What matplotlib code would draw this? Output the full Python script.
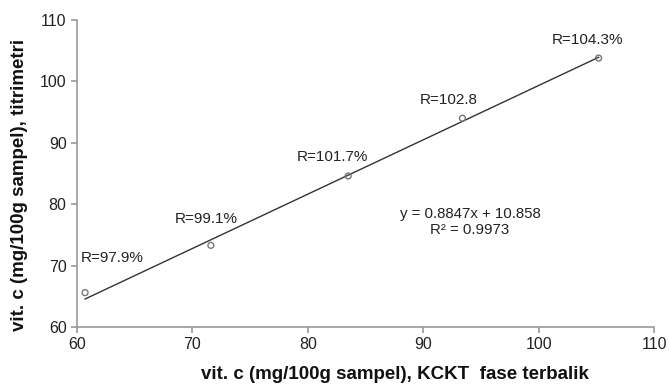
import numpy as np
import matplotlib
matplotlib.use("Agg")
import matplotlib.pyplot as plt

plt.rcParams['font.family'] = ['Liberation Sans', 'DejaVu Sans']

# data
x_kckt = [60.7, 71.6, 83.5, 93.4, 105.2]
y_titri = [65.6, 73.3, 84.6, 94.0, 103.8]
labels = ["R=97.9%", "R=99.1%", "R=101.7%", "R=102.8", "R=104.3%"]
slope, intercept = 0.8847, 10.858

fig = plt.figure(figsize=(6.69, 3.87), dpi=100)
ax = fig.add_axes([77 / 669, 1 - 327 / 387, 577 / 669, 307 / 387])

# trend line over the data range
xs = np.array([min(x_kckt), max(x_kckt)])
ax.plot(xs, slope * xs + intercept, color='#333333', lw=1.0, zorder=2)
ax.scatter(x_kckt, y_titri, s=18, facecolors='none', edgecolors='#777777',
           linewidths=1.0, zorder=3)

# label offsets in points (dx, dy) from each point
offsets = [(-3, 25), (-26, 19), (-37, 14), (-31, 13), (-34, 13)]
for xv, yv, lab, (dx, dy) in zip(x_kckt, y_titri, labels, offsets):
    ax.annotate(lab, (xv, yv), xytext=(dx, dy), textcoords='offset points',
                fontsize=11, color='#222222', ha='left', va='center')

ax.text(94.05, 77.1, "y = 0.8847x + 10.858\nR² = 0.9973", fontsize=10.8,
        color='#222222', ha='center', va='center', linespacing=1.1)

ax.set_xlim(60, 110)
ax.set_ylim(60, 110)
ax.set_xticks(range(60, 111, 10))
ax.set_yticks(range(60, 111, 10))
for s in ['top', 'right']:
    ax.spines[s].set_visible(False)
for s in ['left', 'bottom']:
    ax.spines[s].set_color('#999999')
    ax.spines[s].set_linewidth(1.2)
ax.tick_params(colors='#999999', labelcolor='#222222', labelsize=11.5, length=4,
               width=1.2)

ax.set_xlabel("vit. c (mg/100g sampel), KCKT  fase terbalik", fontsize=13.5,
              fontweight='bold', color='#111111', va='center')
ax.set_ylabel("vit. c (mg/100g sampel), titrimetri", fontsize=13.5,
              fontweight='bold', color='#111111', va='center')
ax.xaxis.set_label_coords(0.551, -0.156)
ax.yaxis.set_label_coords(-0.099, 0.4625)

fig.savefig("out.png", dpi=100)
